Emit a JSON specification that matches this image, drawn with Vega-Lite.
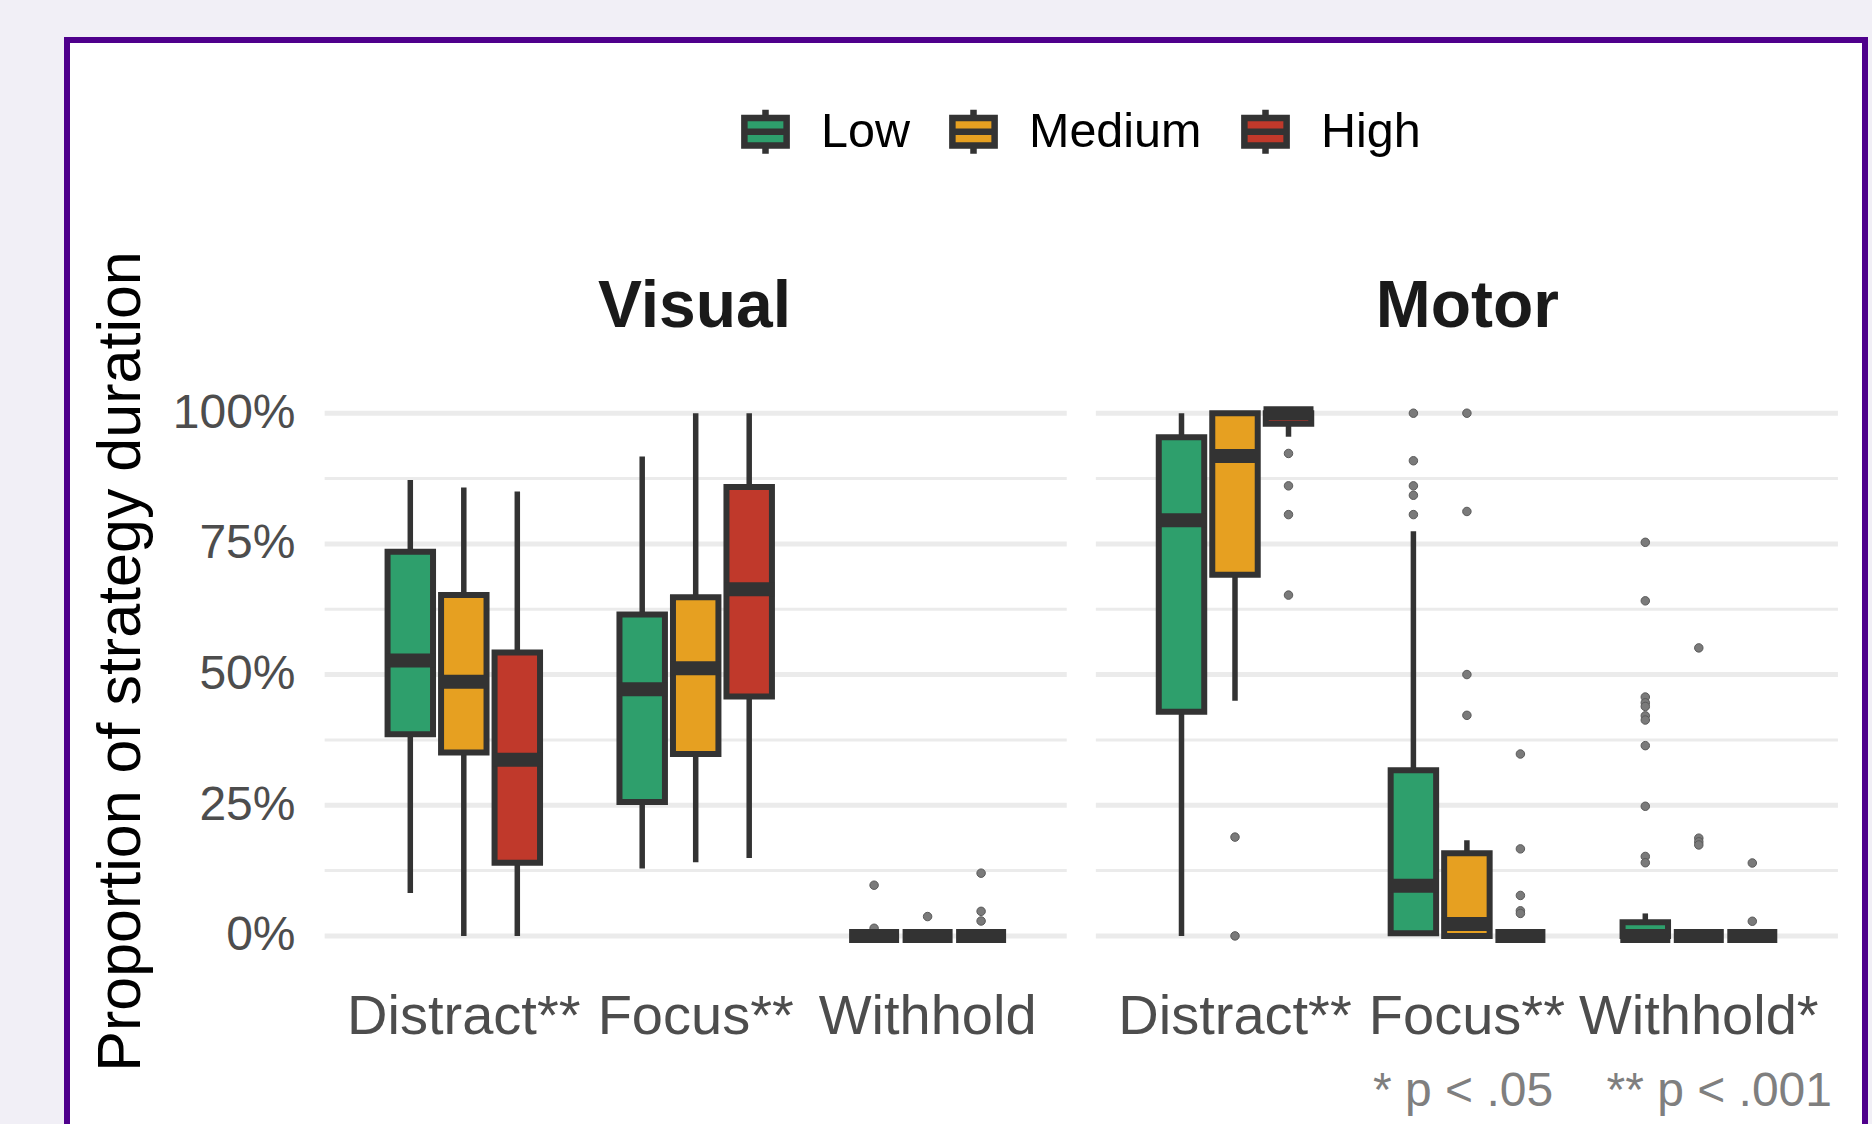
{
  "$schema": "https://vega.github.io/schema/vega-lite/v6.json",
  "width": 1798,
  "height": 1094,
  "autosize": {"type": "none"},
  "padding": {"left": 67, "top": 40, "right": 7, "bottom": -10},
  "background": "#F1EFF6",
  "title": {
    "text": "* p < .05\u00a0\u00a0\u00a0\u00a0** p < .001",
    "orient": "bottom",
    "anchor": "end",
    "frame": "group",
    "offset": -28,
    "dx": -33,
    "baseline": "alphabetic",
    "fontSize": 48,
    "fontWeight": "normal",
    "color": "#7F7F7F",
    "font": "Liberation Sans",
    "limit": 1000
  },
  "config": {
    "font": "Liberation Sans",
    "view": {"stroke": "#4F008C", "strokeWidth": 6, "fill": "white"},
    "axis": {"domain": false, "ticks": false, "tickSize": 0, "grid": false, "labelPadding": 0, "labelLimit": 1000, "labelFont": "Liberation Sans", "titleFont": "Liberation Sans", "titleLimit": 2000}
  },
  "datasets": {
    "grid": [
      {"v": 0, "kind": "major"}, {"v": 0.125, "kind": "minor"}, {"v": 0.25, "kind": "major"},
      {"v": 0.375, "kind": "minor"}, {"v": 0.5, "kind": "major"}, {"v": 0.625, "kind": "minor"},
      {"v": 0.75, "kind": "major"}, {"v": 0.875, "kind": "minor"}, {"v": 1, "kind": "major"}
    ],
    "boxes": [
      {"modality": "Visual", "strategy": "Distract", "level": "Low", "lower": 0.082, "q1": 0.386, "median": 0.527, "q3": 0.735, "upper": 0.872},
      {"modality": "Visual", "strategy": "Distract", "level": "Medium", "lower": 0.0, "q1": 0.351, "median": 0.486, "q3": 0.652, "upper": 0.858},
      {"modality": "Visual", "strategy": "Distract", "level": "High", "lower": 0.0, "q1": 0.14, "median": 0.337, "q3": 0.542, "upper": 0.85},
      {"modality": "Visual", "strategy": "Focus", "level": "Low", "lower": 0.129, "q1": 0.256, "median": 0.472, "q3": 0.615, "upper": 0.917},
      {"modality": "Visual", "strategy": "Focus", "level": "Medium", "lower": 0.141, "q1": 0.348, "median": 0.512, "q3": 0.648, "upper": 1.0},
      {"modality": "Visual", "strategy": "Focus", "level": "High", "lower": 0.149, "q1": 0.458, "median": 0.663, "q3": 0.859, "upper": 1.0},
      {"modality": "Visual", "strategy": "Withhold", "level": "Low", "lower": 0, "q1": 0, "median": 0, "q3": 0, "upper": 0},
      {"modality": "Visual", "strategy": "Withhold", "level": "Medium", "lower": 0, "q1": 0, "median": 0, "q3": 0, "upper": 0},
      {"modality": "Visual", "strategy": "Withhold", "level": "High", "lower": 0, "q1": 0, "median": 0, "q3": 0, "upper": 0},
      {"modality": "Motor", "strategy": "Distract", "level": "Low", "lower": 0, "q1": 0.429, "median": 0.795, "q3": 0.954, "upper": 1.0},
      {"modality": "Motor", "strategy": "Distract", "level": "Medium", "lower": 0.45, "q1": 0.691, "median": 0.918, "q3": 1.0, "upper": 1.0},
      {"modality": "Motor", "strategy": "Distract", "level": "High", "lower": 0.955, "q1": 0.98, "median": 1.0, "q3": 1.0, "upper": 1.0},
      {"modality": "Motor", "strategy": "Focus", "level": "Low", "lower": 0, "q1": 0.005, "median": 0.096, "q3": 0.317, "upper": 0.774},
      {"modality": "Motor", "strategy": "Focus", "level": "Medium", "lower": 0, "q1": 0, "median": 0.023, "q3": 0.158, "upper": 0.183},
      {"modality": "Motor", "strategy": "Focus", "level": "High", "lower": 0, "q1": 0, "median": 0, "q3": 0, "upper": 0},
      {"modality": "Motor", "strategy": "Withhold", "level": "Low", "lower": 0, "q1": 0, "median": 0, "q3": 0.026, "upper": 0.043},
      {"modality": "Motor", "strategy": "Withhold", "level": "Medium", "lower": 0, "q1": 0, "median": 0, "q3": 0, "upper": 0},
      {"modality": "Motor", "strategy": "Withhold", "level": "High", "lower": 0, "q1": 0, "median": 0, "q3": 0, "upper": 0}
    ],
    "outliers": [
      {"modality": "Visual", "strategy": "Withhold", "level": "Low", "value": 0.097},
      {"modality": "Visual", "strategy": "Withhold", "level": "Low", "value": 0.0146},
      {"modality": "Visual", "strategy": "Withhold", "level": "Medium", "value": 0.037},
      {"modality": "Visual", "strategy": "Withhold", "level": "High", "value": 0.12},
      {"modality": "Visual", "strategy": "Withhold", "level": "High", "value": 0.047},
      {"modality": "Visual", "strategy": "Withhold", "level": "High", "value": 0.0285},
      {"modality": "Motor", "strategy": "Distract", "level": "Medium", "value": 0.189},
      {"modality": "Motor", "strategy": "Distract", "level": "Medium", "value": 0.0},
      {"modality": "Motor", "strategy": "Distract", "level": "High", "value": 0.923},
      {"modality": "Motor", "strategy": "Distract", "level": "High", "value": 0.861},
      {"modality": "Motor", "strategy": "Distract", "level": "High", "value": 0.806},
      {"modality": "Motor", "strategy": "Distract", "level": "High", "value": 0.652},
      {"modality": "Motor", "strategy": "Focus", "level": "Low", "value": 1.0},
      {"modality": "Motor", "strategy": "Focus", "level": "Low", "value": 0.909},
      {"modality": "Motor", "strategy": "Focus", "level": "Low", "value": 0.861},
      {"modality": "Motor", "strategy": "Focus", "level": "Low", "value": 0.843},
      {"modality": "Motor", "strategy": "Focus", "level": "Low", "value": 0.806},
      {"modality": "Motor", "strategy": "Focus", "level": "Medium", "value": 1.0},
      {"modality": "Motor", "strategy": "Focus", "level": "Medium", "value": 0.812},
      {"modality": "Motor", "strategy": "Focus", "level": "Medium", "value": 0.5},
      {"modality": "Motor", "strategy": "Focus", "level": "Medium", "value": 0.422},
      {"modality": "Motor", "strategy": "Focus", "level": "High", "value": 0.348},
      {"modality": "Motor", "strategy": "Focus", "level": "High", "value": 0.1665},
      {"modality": "Motor", "strategy": "Focus", "level": "High", "value": 0.0774},
      {"modality": "Motor", "strategy": "Focus", "level": "High", "value": 0.048},
      {"modality": "Motor", "strategy": "Focus", "level": "High", "value": 0.043},
      {"modality": "Motor", "strategy": "Withhold", "level": "Low", "value": 0.753},
      {"modality": "Motor", "strategy": "Withhold", "level": "Low", "value": 0.641},
      {"modality": "Motor", "strategy": "Withhold", "level": "Low", "value": 0.457},
      {"modality": "Motor", "strategy": "Withhold", "level": "Low", "value": 0.446},
      {"modality": "Motor", "strategy": "Withhold", "level": "Low", "value": 0.439},
      {"modality": "Motor", "strategy": "Withhold", "level": "Low", "value": 0.421},
      {"modality": "Motor", "strategy": "Withhold", "level": "Low", "value": 0.413},
      {"modality": "Motor", "strategy": "Withhold", "level": "Low", "value": 0.364},
      {"modality": "Motor", "strategy": "Withhold", "level": "Low", "value": 0.248},
      {"modality": "Motor", "strategy": "Withhold", "level": "Low", "value": 0.152},
      {"modality": "Motor", "strategy": "Withhold", "level": "Low", "value": 0.14},
      {"modality": "Motor", "strategy": "Withhold", "level": "Medium", "value": 0.551},
      {"modality": "Motor", "strategy": "Withhold", "level": "Medium", "value": 0.187},
      {"modality": "Motor", "strategy": "Withhold", "level": "Medium", "value": 0.18},
      {"modality": "Motor", "strategy": "Withhold", "level": "Medium", "value": 0.174},
      {"modality": "Motor", "strategy": "Withhold", "level": "High", "value": 0.1395},
      {"modality": "Motor", "strategy": "Withhold", "level": "High", "value": 0.028}
    ]
  },
  "layer": [
    {
      "layer": [
        {
          "data": {"name": "grid"},
          "mark": {"type": "rule", "color": "#EBEBEB"},
          "encoding": {
            "x": {"datum": "Distract", "type": "nominal", "bandPosition": -0.1,
              "scale": {"domain": ["Distract", "Focus", "Withhold"], "range": [280.85, 976.55], "paddingInner": 0, "paddingOuter": 0},
              "axis": {"orient": "bottom", "offset": -101, "labelExpr": "datum.value == 'Withhold' ? 'Withhold' : datum.value + '**'", "labelFontSize": 56, "labelColor": "#4D4D4D", "labelBaseline": "alphabetic", "labelAngle": 0, "labelOverlap": false, "title": "Visual", "titleFontSize": 66, "titleFontWeight": "bold", "titleColor": "#1A1A1A", "titleX": 627, "titleY": -706.3, "titleBaseline": "alphabetic", "titleAlign": "center"}},
            "x2": {"datum": "Withhold", "bandPosition": 1.1},
            "y": {"field": "v", "type": "quantitative", "title": "Proportion of strategy duration",
              "scale": {"domain": [-0.37899, 1.71399], "nice": false, "zero": false},
              "axis": {"orient": "left", "offset": -228, "values": [0, 0.25, 0.5, 0.75, 1], "format": ".0%", "labelFontSize": 48, "labelColor": "#4D4D4D", "titleFontSize": 61, "titleFontWeight": "normal", "titleColor": "#000000", "titleAngle": 270, "titleX": -156, "titleY": 621, "titleBaseline": "alphabetic", "titleAlign": "center"}},
            "strokeWidth": {"field": "kind", "type": "nominal", "scale": {"domain": ["major", "minor"], "range": [5, 3]}, "legend": null}
          }
        },
        {
          "data": {"name": "outliers"},
          "transform": [{"filter": "datum.modality == 'Visual'"}],
          "mark": {"type": "circle", "size": 72, "fill": "#7A7A7A", "stroke": "#5A5A5A", "strokeWidth": 1, "opacity": 1},
          "encoding": {
            "x": {"field": "strategy", "type": "nominal",
              "scale": {"domain": ["Distract", "Focus", "Withhold"], "range": [280.85, 976.55], "paddingInner": 0, "paddingOuter": 0},
              "axis": {"orient": "bottom", "offset": -101, "labelExpr": "datum.value == 'Withhold' ? 'Withhold' : datum.value + '**'", "labelFontSize": 56, "labelColor": "#4D4D4D", "labelBaseline": "alphabetic", "labelAngle": 0, "labelOverlap": false, "title": "Visual", "titleFontSize": 66, "titleFontWeight": "bold", "titleColor": "#1A1A1A", "titleX": 627, "titleY": -706.3, "titleBaseline": "alphabetic", "titleAlign": "center"}},
            "xOffset": {"field": "level", "type": "nominal", "scale": {"domain": ["Low", "Medium", "High"], "paddingInner": 0.15, "paddingOuter": 0.7423}},
            "y": {"field": "value", "type": "quantitative", "title": "Proportion of strategy duration", "scale": {"domain": [-0.37899, 1.71399], "nice": false, "zero": false}}
          }
        },
        {
          "data": {"name": "boxes"},
          "transform": [{"filter": "datum.modality == 'Visual'"}],
          "mark": {"type": "rule", "color": "#333333", "strokeWidth": 5.5},
          "encoding": {
            "x": {"field": "strategy", "type": "nominal",
              "scale": {"domain": ["Distract", "Focus", "Withhold"], "range": [280.85, 976.55], "paddingInner": 0, "paddingOuter": 0},
              "axis": {"orient": "bottom", "offset": -101, "labelExpr": "datum.value == 'Withhold' ? 'Withhold' : datum.value + '**'", "labelFontSize": 56, "labelColor": "#4D4D4D", "labelBaseline": "alphabetic", "labelAngle": 0, "labelOverlap": false, "title": "Visual", "titleFontSize": 66, "titleFontWeight": "bold", "titleColor": "#1A1A1A", "titleX": 627, "titleY": -706.3, "titleBaseline": "alphabetic", "titleAlign": "center"}},
            "xOffset": {"field": "level", "type": "nominal", "scale": {"domain": ["Low", "Medium", "High"], "paddingInner": 0.15, "paddingOuter": 0.7423}},
            "y": {"field": "lower", "type": "quantitative", "title": "Proportion of strategy duration", "scale": {"domain": [-0.37899, 1.71399], "nice": false, "zero": false}},
            "y2": {"field": "upper"}
          }
        },
        {
          "data": {"name": "boxes"},
          "transform": [{"filter": "datum.modality == 'Visual'"}],
          "mark": {"type": "bar", "stroke": "#333333", "strokeWidth": 6, "opacity": 1},
          "encoding": {
            "x": {"field": "strategy", "type": "nominal",
              "scale": {"domain": ["Distract", "Focus", "Withhold"], "range": [280.85, 976.55], "paddingInner": 0, "paddingOuter": 0},
              "axis": {"orient": "bottom", "offset": -101, "labelExpr": "datum.value == 'Withhold' ? 'Withhold' : datum.value + '**'", "labelFontSize": 56, "labelColor": "#4D4D4D", "labelBaseline": "alphabetic", "labelAngle": 0, "labelOverlap": false, "title": "Visual", "titleFontSize": 66, "titleFontWeight": "bold", "titleColor": "#1A1A1A", "titleX": 627, "titleY": -706.3, "titleBaseline": "alphabetic", "titleAlign": "center"}},
            "xOffset": {"field": "level", "type": "nominal", "scale": {"domain": ["Low", "Medium", "High"], "paddingInner": 0.15, "paddingOuter": 0.7423}},
            "y": {"field": "q1", "type": "quantitative", "title": "Proportion of strategy duration", "scale": {"domain": [-0.37899, 1.71399], "nice": false, "zero": false}},
            "y2": {"field": "q3"},
            "fill": {"field": "level", "type": "nominal",
              "scale": {"domain": ["Low", "Medium", "High"], "range": ["#2E9F6C", "#E6A021", "#C0392B"]},
              "legend": {"orient": "none", "legendX": 671, "legendY": 64, "direction": "horizontal", "title": null,
                "symbolType": "M-0.88,-0.57H0.88V0.57H-0.88Z M-0.88,0H0.88 M0,-0.57V-0.92 M0,0.57V0.92",
                "symbolSize": 2304, "symbolStrokeColor": "#333333", "symbolStrokeWidth": 6.5, "symbolOpacity": 1,
                "labelFontSize": 48.5, "labelColor": "#000000", "labelFont": "Liberation Sans", "labelLimit": 1000, "labelOffset": 28, "columnPadding": 29, "padding": 0}}
          }
        },
        {
          "data": {"name": "boxes"},
          "transform": [{"filter": "datum.modality == 'Visual'"}],
          "mark": {"type": "tick", "orient": "horizontal", "thickness": 14, "size": 50, "color": "#333333", "opacity": 1},
          "encoding": {
            "x": {"field": "strategy", "type": "nominal",
              "scale": {"domain": ["Distract", "Focus", "Withhold"], "range": [280.85, 976.55], "paddingInner": 0, "paddingOuter": 0},
              "axis": {"orient": "bottom", "offset": -101, "labelExpr": "datum.value == 'Withhold' ? 'Withhold' : datum.value + '**'", "labelFontSize": 56, "labelColor": "#4D4D4D", "labelBaseline": "alphabetic", "labelAngle": 0, "labelOverlap": false, "title": "Visual", "titleFontSize": 66, "titleFontWeight": "bold", "titleColor": "#1A1A1A", "titleX": 627, "titleY": -706.3, "titleBaseline": "alphabetic", "titleAlign": "center"}},
            "xOffset": {"field": "level", "type": "nominal", "scale": {"domain": ["Low", "Medium", "High"], "paddingInner": 0.15, "paddingOuter": 0.7423}},
            "y": {"field": "median", "type": "quantitative", "title": "Proportion of strategy duration", "scale": {"domain": [-0.37899, 1.71399], "nice": false, "zero": false}}
          }
        }
      ]
    },
    {
      "layer": [
        {
          "data": {"name": "grid"},
          "mark": {"type": "rule", "color": "#EBEBEB"},
          "encoding": {
            "x": {"datum": "Distract", "type": "nominal", "bandPosition": -0.1,
              "scale": {"domain": ["Distract", "Focus", "Withhold"], "range": [1052.05, 1747.75], "paddingInner": 0, "paddingOuter": 0},
              "axis": {"orient": "bottom", "offset": -101, "labelExpr": "datum.value == 'Withhold' ? 'Withhold*' : datum.value + '**'", "labelFontSize": 56, "labelColor": "#4D4D4D", "labelBaseline": "alphabetic", "labelAngle": 0, "labelOverlap": false, "title": "Motor", "titleFontSize": 66, "titleFontWeight": "bold", "titleColor": "#1A1A1A", "titleX": 1399.8, "titleY": -706.3, "titleBaseline": "alphabetic", "titleAlign": "center"}},
            "x2": {"datum": "Withhold", "bandPosition": 1.1},
            "y": {"field": "v", "type": "quantitative", "title": "Proportion of strategy duration", "scale": {"domain": [-0.37899, 1.71399], "nice": false, "zero": false}},
            "strokeWidth": {"field": "kind", "type": "nominal", "scale": {"domain": ["major", "minor"], "range": [5, 3]}, "legend": null}
          }
        },
        {
          "data": {"name": "outliers"},
          "transform": [{"filter": "datum.modality == 'Motor'"}],
          "mark": {"type": "circle", "size": 72, "fill": "#7A7A7A", "stroke": "#5A5A5A", "strokeWidth": 1, "opacity": 1},
          "encoding": {
            "x": {"field": "strategy", "type": "nominal",
              "scale": {"domain": ["Distract", "Focus", "Withhold"], "range": [1052.05, 1747.75], "paddingInner": 0, "paddingOuter": 0},
              "axis": {"orient": "bottom", "offset": -101, "labelExpr": "datum.value == 'Withhold' ? 'Withhold*' : datum.value + '**'", "labelFontSize": 56, "labelColor": "#4D4D4D", "labelBaseline": "alphabetic", "labelAngle": 0, "labelOverlap": false, "title": "Motor", "titleFontSize": 66, "titleFontWeight": "bold", "titleColor": "#1A1A1A", "titleX": 1399.8, "titleY": -706.3, "titleBaseline": "alphabetic", "titleAlign": "center"}},
            "xOffset": {"field": "level", "type": "nominal", "scale": {"domain": ["Low", "Medium", "High"], "paddingInner": 0.15, "paddingOuter": 0.7423}},
            "y": {"field": "value", "type": "quantitative", "title": "Proportion of strategy duration", "scale": {"domain": [-0.37899, 1.71399], "nice": false, "zero": false}}
          }
        },
        {
          "data": {"name": "boxes"},
          "transform": [{"filter": "datum.modality == 'Motor'"}],
          "mark": {"type": "rule", "color": "#333333", "strokeWidth": 5.5},
          "encoding": {
            "x": {"field": "strategy", "type": "nominal",
              "scale": {"domain": ["Distract", "Focus", "Withhold"], "range": [1052.05, 1747.75], "paddingInner": 0, "paddingOuter": 0},
              "axis": {"orient": "bottom", "offset": -101, "labelExpr": "datum.value == 'Withhold' ? 'Withhold*' : datum.value + '**'", "labelFontSize": 56, "labelColor": "#4D4D4D", "labelBaseline": "alphabetic", "labelAngle": 0, "labelOverlap": false, "title": "Motor", "titleFontSize": 66, "titleFontWeight": "bold", "titleColor": "#1A1A1A", "titleX": 1399.8, "titleY": -706.3, "titleBaseline": "alphabetic", "titleAlign": "center"}},
            "xOffset": {"field": "level", "type": "nominal", "scale": {"domain": ["Low", "Medium", "High"], "paddingInner": 0.15, "paddingOuter": 0.7423}},
            "y": {"field": "lower", "type": "quantitative", "title": "Proportion of strategy duration", "scale": {"domain": [-0.37899, 1.71399], "nice": false, "zero": false}},
            "y2": {"field": "upper"}
          }
        },
        {
          "data": {"name": "boxes"},
          "transform": [{"filter": "datum.modality == 'Motor'"}],
          "mark": {"type": "bar", "stroke": "#333333", "strokeWidth": 6, "opacity": 1},
          "encoding": {
            "x": {"field": "strategy", "type": "nominal",
              "scale": {"domain": ["Distract", "Focus", "Withhold"], "range": [1052.05, 1747.75], "paddingInner": 0, "paddingOuter": 0},
              "axis": {"orient": "bottom", "offset": -101, "labelExpr": "datum.value == 'Withhold' ? 'Withhold*' : datum.value + '**'", "labelFontSize": 56, "labelColor": "#4D4D4D", "labelBaseline": "alphabetic", "labelAngle": 0, "labelOverlap": false, "title": "Motor", "titleFontSize": 66, "titleFontWeight": "bold", "titleColor": "#1A1A1A", "titleX": 1399.8, "titleY": -706.3, "titleBaseline": "alphabetic", "titleAlign": "center"}},
            "xOffset": {"field": "level", "type": "nominal", "scale": {"domain": ["Low", "Medium", "High"], "paddingInner": 0.15, "paddingOuter": 0.7423}},
            "y": {"field": "q1", "type": "quantitative", "title": "Proportion of strategy duration", "scale": {"domain": [-0.37899, 1.71399], "nice": false, "zero": false}},
            "y2": {"field": "q3"},
            "fill": {"field": "level", "type": "nominal", "scale": {"domain": ["Low", "Medium", "High"], "range": ["#2E9F6C", "#E6A021", "#C0392B"]}}
          }
        },
        {
          "data": {"name": "boxes"},
          "transform": [{"filter": "datum.modality == 'Motor'"}],
          "mark": {"type": "tick", "orient": "horizontal", "thickness": 14, "size": 50, "color": "#333333", "opacity": 1},
          "encoding": {
            "x": {"field": "strategy", "type": "nominal",
              "scale": {"domain": ["Distract", "Focus", "Withhold"], "range": [1052.05, 1747.75], "paddingInner": 0, "paddingOuter": 0},
              "axis": {"orient": "bottom", "offset": -101, "labelExpr": "datum.value == 'Withhold' ? 'Withhold*' : datum.value + '**'", "labelFontSize": 56, "labelColor": "#4D4D4D", "labelBaseline": "alphabetic", "labelAngle": 0, "labelOverlap": false, "title": "Motor", "titleFontSize": 66, "titleFontWeight": "bold", "titleColor": "#1A1A1A", "titleX": 1399.8, "titleY": -706.3, "titleBaseline": "alphabetic", "titleAlign": "center"}},
            "xOffset": {"field": "level", "type": "nominal", "scale": {"domain": ["Low", "Medium", "High"], "paddingInner": 0.15, "paddingOuter": 0.7423}},
            "y": {"field": "median", "type": "quantitative", "title": "Proportion of strategy duration", "scale": {"domain": [-0.37899, 1.71399], "nice": false, "zero": false}}
          }
        }
      ]
    }
  ],
  "resolve": {"scale": {"x": "independent", "xOffset": "independent"}, "axis": {"x": "independent"}}
}
